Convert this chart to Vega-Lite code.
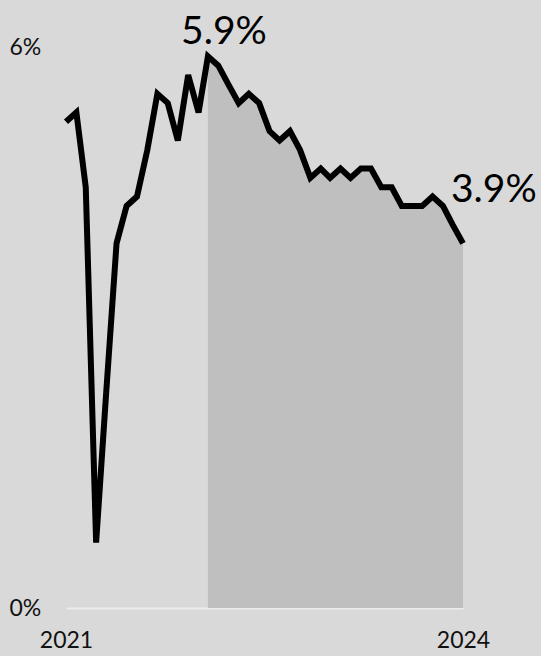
{
  "$schema": "https://vega.github.io/schema/vega-lite/v6.json",
  "width": 397,
  "height": 561,
  "autosize": "none",
  "padding": {"left": 66, "top": 47, "right": 78, "bottom": 48},
  "background": "#d9d9d9",
  "config": {
    "view": {"stroke": null},
    "font": "Lato",
    "axis": {"grid": false, "ticks": false, "title": null}
  },
  "data": {
    "values": [
      {"date": "2021-01-01", "v": 5.2},
      {"date": "2021-02-01", "v": 5.3},
      {"date": "2021-03-01", "v": 4.5},
      {"date": "2021-04-01", "v": 0.7},
      {"date": "2021-05-01", "v": 2.3},
      {"date": "2021-06-01", "v": 3.9},
      {"date": "2021-07-01", "v": 4.3},
      {"date": "2021-08-01", "v": 4.4},
      {"date": "2021-09-01", "v": 4.9},
      {"date": "2021-10-01", "v": 5.5},
      {"date": "2021-11-01", "v": 5.4},
      {"date": "2021-12-01", "v": 5.0},
      {"date": "2022-01-01", "v": 5.7},
      {"date": "2022-02-01", "v": 5.3},
      {"date": "2022-03-01", "v": 5.9},
      {"date": "2022-04-01", "v": 5.8},
      {"date": "2022-05-01", "v": 5.6},
      {"date": "2022-06-01", "v": 5.4},
      {"date": "2022-07-01", "v": 5.5},
      {"date": "2022-08-01", "v": 5.4},
      {"date": "2022-09-01", "v": 5.1},
      {"date": "2022-10-01", "v": 5.0},
      {"date": "2022-11-01", "v": 5.1},
      {"date": "2022-12-01", "v": 4.9},
      {"date": "2023-01-01", "v": 4.6},
      {"date": "2023-02-01", "v": 4.7},
      {"date": "2023-03-01", "v": 4.6},
      {"date": "2023-04-01", "v": 4.7},
      {"date": "2023-05-01", "v": 4.6},
      {"date": "2023-06-01", "v": 4.7},
      {"date": "2023-07-01", "v": 4.7},
      {"date": "2023-08-01", "v": 4.5},
      {"date": "2023-09-01", "v": 4.5},
      {"date": "2023-10-01", "v": 4.3},
      {"date": "2023-11-01", "v": 4.3},
      {"date": "2023-12-01", "v": 4.3},
      {"date": "2024-01-01", "v": 4.4},
      {"date": "2024-02-01", "v": 4.3},
      {"date": "2024-03-01", "v": 4.1},
      {"date": "2024-04-01", "v": 3.9}
    ]
  },
  "encoding": {
    "x": {
      "field": "date", "type": "temporal",
      "scale": {"type": "utc", "nice": false},
      "axis": {
        "values": [{"year": 2021, "month": 1, "date": 1, "utc": true}, {"year": 2024, "month": 4, "date": 1, "utc": true}],
        "format": "%Y",
        "domainColor": "#ececec",
        "domainWidth": 2,
        "labelPadding": 21,
        "labelBaseline": "top",
        "labelAlign": "center",
        "labelFlush": false,
        "labelFont": "Lato",
        "labelFontSize": 23,
        "labelColor": "#111111",
        "labelLimit": 0
      }
    },
    "y": {
      "field": "v", "type": "quantitative",
      "scale": {"domain": [0, 6], "nice": false, "zero": true},
      "axis": {
        "values": [0, 6],
        "labelExpr": "datum.value + '%'",
        "domain": false,
        "labelAlign": "left",
        "labelPadding": 57,
        "labelBaseline": "middle",
        "labelFont": "Lato",
        "labelFontSize": 23,
        "labelColor": "#111111",
        "labelLimit": 0
      }
    }
  },
  "layer": [
    {
      "transform": [{"filter": "toDate(datum.date) >= toDate('2022-03-01')"}],
      "mark": {"type": "area", "color": "#bfbfbf"}
    },
    {
      "mark": {"type": "line", "color": "#000000", "strokeWidth": 6}
    },
    {
      "transform": [{"filter": "toDate(datum.date) - toDate('2022-03-01') == 0"}],
      "mark": {"type": "text", "text": {"expr": "format(datum.v, '.1f') + '%'"}, "fontSize": 39, "letterSpacing": 1.5, "align": "center", "baseline": "alphabetic", "dx": 16, "dy": -12, "color": "#000000"}
    },
    {
      "transform": [{"filter": "toDate(datum.date) - toDate('2024-04-01') == 0"}],
      "mark": {"type": "text", "text": {"expr": "format(datum.v, '.1f') + '%'"}, "fontSize": 39, "letterSpacing": 1.5, "align": "left", "baseline": "alphabetic", "dx": -12, "dy": -41, "color": "#000000"}
    }
  ]
}
